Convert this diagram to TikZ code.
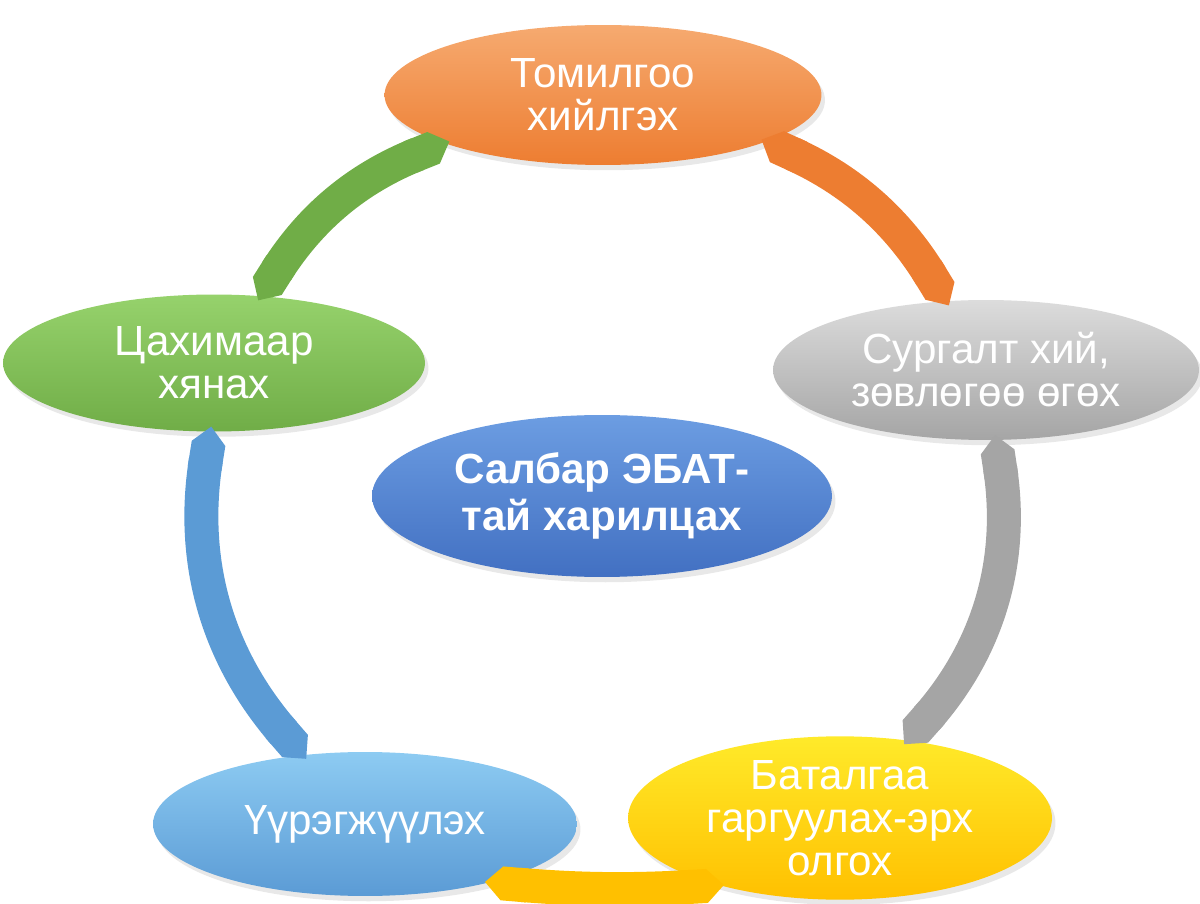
\documentclass[tikz,border=0pt]{standalone}
\usepackage{fontspec}
\setmainfont{Liberation Sans}
\usetikzlibrary{shapes.geometric,arrows.meta,shadows}

\definecolor{orn}{HTML}{ED7D31}
\definecolor{ornhi}{HTML}{F6AA70}
\definecolor{gry}{HTML}{A5A5A5}
\definecolor{gryhi}{HTML}{DCDCDC}
\definecolor{ylw}{HTML}{FFC000}
\definecolor{ylwhi}{HTML}{FFEA2A}
\definecolor{blu}{HTML}{5B9BD5}
\definecolor{bluhi}{HTML}{8DCBF2}
\definecolor{grn}{HTML}{70AD47}
\definecolor{grnhi}{HTML}{96D26C}
\definecolor{mid}{HTML}{4270C2}
\definecolor{midhi}{HTML}{6C9DE2}

\begin{document}
\begin{tikzpicture}[x=0.02cm,y=0.02cm,
    stage/.style={ellipse,inner sep=0pt,text=white,align=center,
      font=\fontsize{24}{24.5}\selectfont,
      drop shadow={opacity=0.18,shadow xshift=2pt,shadow yshift=-3pt}},
    band/.style={draw=#1,line width=0.68cm,arrows={Triangle Cap-Triangle Cap},
      shorten <=-3pt,shorten >=-3pt}]
	\useasboundingbox (0,0) rectangle (1200,903);
	% stages round the cycle
	\node[stage,top color=ornhi,bottom color=orn,minimum width=8.74cm,minimum height=2.8cm] (plan) at (603,808) {Томилгоо\\хийлгэх};
	\node[stage,top color=gryhi,bottom color=gry,minimum width=8.52cm,minimum height=2.8cm] (train) at (986,533) {Сургалт хий,\\зөвлөгөө өгөх};
	\node[stage,top color=ylwhi,bottom color=ylw,minimum width=8.48cm,minimum height=3.12cm] (cert) at (840,85) {Баталгаа\\гаргуулах-эрх\\олгох};
	\node[stage,top color=bluhi,bottom color=blu,minimum width=8.48cm,minimum height=2.88cm] (duty) at (365,79) {Үүрэгжүүлэх};
	\node[stage,top color=grnhi,bottom color=grn,minimum width=8.44cm,minimum height=2.74cm] (watch) at (214,540) {Цахимаар\\хянах};
	% centre
	\node[stage,top color=midhi,bottom color=mid,minimum width=9.2cm,minimum height=3.24cm,
	  font=\bfseries\fontsize{24}{27}\selectfont] (hub) at (602,407) {Салбар ЭБАТ-\\тай харилцах};
	% bands
	\draw[band=orn] (plan.344) to[bend left=17] (train.120);
	\draw[band=gry] (train.278) to[bend left=25] (cert.49);
	\draw[band=ylw] (cert.209) to[bend left=4] (duty.335);
	\draw[band=blu] (duty.132) to[bend left=25] (watch.267);
	\draw[band=grn] (watch.55) to[bend left=18] (plan.197);
\end{tikzpicture}
\end{document}
